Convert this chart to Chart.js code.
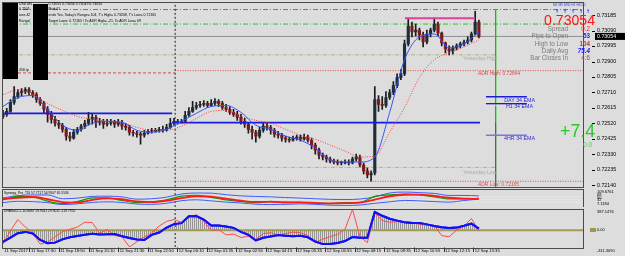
<!DOCTYPE html>
<html>
<head>
<meta charset="utf-8">
<title>AUDUSD M5</title>
<script src="https://cdn.jsdelivr.net/npm/chart.js@4.4.1/dist/chart.umd.min.js"></script>
<style>
  html, body { margin: 0; padding: 0; background: #dddddd; }
  #wrap { position: relative; width: 625px; height: 256px; overflow: hidden; font-family: "Liberation Sans", Arial, sans-serif; }
  #wrap canvas { position: absolute; left: 0; }
  .t { position: absolute; white-space: nowrap; line-height: 1; }
  .box { position: absolute; background: #000; }
  .arr { position: absolute; font-family: "DejaVu Sans", sans-serif; font-size: 5px; line-height: 1; color: #2040ff; font-weight: bold; }
</style>
</head>
<body>
<div id="wrap">
  <canvas id="priceChart" width="625" height="190" style="top:0"></canvas>
  <canvas id="tdiChart" width="625" height="19" style="top:188px"></canvas>
  <canvas id="cciChart" width="625" height="48" style="top:208px"></canvas>

  <!-- top left info block -->
  <div class="t" style="left:19px;top:3.2px;font-size:3.5px">USD,M5</div>
  <div class="t" style="left:48.5px;top:3.2px;font-size:3.5px">0.73055 0.73056 0.73049 0.73054</div>
  <div class="t" style="left:19px;top:8.3px;font-size:3.5px">0 2505</div>
  <div class="t" style="left:48.5px;top:8.3px;font-size:3.5px">Mod:01</div>
  <div class="t" style="left:19px;top:14px;font-size:3.5px">ions 42</div>
  <div class="t" style="left:48.5px;top:14px;font-size:3.5px">ends Yes, Today's Range= 104, T's High= 0.73208, T's Low= 0.72165</div>
  <div class="t" style="left:19px;top:20.3px;font-size:3.5px">Range(</div>
  <div class="t" style="left:48.5px;top:20.3px;font-size:3.5px">Target Lows: 0.72165 / To ADR High= -21, To ADR Low= 69</div>
  <div class="t" style="left:19px;top:68.5px;font-size:3.5px">456 tp</div>
  <div class="box" style="left:3px;top:3px;width:15px;height:76px"></div>
  <div class="box" style="left:33px;top:4px;width:15px;height:76px"></div>

  <!-- right info block -->
  <div class="t" style="left:553px;top:4px;font-size:3.3px;color:#2040ff">M1 M5 M30 H1 H4 D1</div>
  <div class="arr" style="left:555px;top:8.5px">↑</div>
  <div class="arr" style="left:563px;top:8.5px">↑</div>
  <div class="arr" style="left:571px;top:8.5px">↑</div>
  <div class="arr" style="left:579px;top:8.5px">↑</div>
  <div class="arr" style="left:586px;top:8.5px">↑</div>
  <div class="t" style="right:30px;top:13.1px;font-size:14.1px;color:#ff1414">0.73054</div>
  <div class="t" style="right:57px;top:25.9px;font-size:6.3px;color:#7c7c7c">Spread</div>
  <div class="t" style="right:57px;top:33.4px;font-size:6.3px;color:#7c7c7c">Pips to Open</div>
  <div class="t" style="right:57px;top:40.9px;font-size:6.3px;color:#7c7c7c">High to Low</div>
  <div class="t" style="right:57px;top:48.4px;font-size:6.3px;color:#7c7c7c">Daily Avg</div>
  <div class="t" style="right:57px;top:55.4px;font-size:6.3px;color:#7c7c7c">Bar Closes In</div>
  <div class="t" style="right:35px;top:25.9px;font-size:6.3px;color:#e83030">0.2</div>
  <div class="t" style="right:35px;top:33.4px;font-size:6.3px;color:#2424ff;font-weight:bold">53</div>
  <div class="t" style="right:35px;top:40.9px;font-size:6.3px;color:#c03838;font-weight:bold">104</div>
  <div class="t" style="right:35px;top:48.4px;font-size:6.3px;color:#1a1aff;font-weight:bold;font-style:italic">75.4</div>
  <div class="t" style="right:35px;top:55.4px;font-size:6.3px;color:#a84040">4:6</div>
  <div class="t" style="right:30px;top:122.8px;font-size:17.7px;color:#28c828">+7.4</div>
  <div class="t" style="right:33px;top:141.9px;font-size:6.3px;color:#50d050">0.0</div>

  <!-- level labels -->
  <div class="t" style="right:90px;top:98.1px;font-size:5.3px;color:#2626d9">DAY 34 EMA</div>
  <div class="t" style="right:92px;top:104.4px;font-size:5.3px;color:#2626d9">H1 34 EMA</div>
  <div class="t" style="right:90px;top:136.4px;font-size:5.3px;color:#3030d0">4HR 34 EMA</div>
  <div class="t" style="left:463px;top:55.5px;font-size:5.1px;color:#a9a9a9">Yesterday High</div>
  <div class="t" style="left:463px;top:169.5px;font-size:5.1px;color:#a9a9a9">Yesterday Low</div>
  <div class="t" style="left:478px;top:72.1px;font-size:4.9px;color:#d24a4a">ADR High: 0.72844</div>
  <div class="t" style="left:478px;top:183.1px;font-size:4.9px;color:#d24a4a">ADR Low: 0.72165</div>

  <!-- indicator windows -->
  <div class="t" style="left:4px;top:191.6px;font-size:3.3px">Synergy_Pro_TDI 57.7717 54.9567 65.5534</div>
  <div class="t" style="left:4px;top:210px;font-size:3.3px">DRBSoCCI -10.8067 29.9011 29.9011 -119.7952</div>
  <div class="t" style="left:597px;top:189.7px;font-size:4px">109.6761</div>
  <div class="t" style="left:597px;top:193px;font-size:4px">68</div>
  <div class="t" style="left:597px;top:195.5px;font-size:4px">50</div>
  <div class="t" style="left:597px;top:198px;font-size:4px">32</div>
  <div class="t" style="left:597px;top:201.5px;font-size:4px">7.1184</div>
  <div class="t" style="left:597px;top:210px;font-size:4px">387.1476</div>
  <div class="box" style="left:590px;top:228.3px;width:6px;height:4px;background:#a09850"></div>
  <div class="t" style="left:597px;top:228.3px;font-size:4px">0.00</div>
  <div class="t" style="left:597px;top:249px;font-size:4px">-311.3090</div>
</div>

<script>
// candle prices in points (0.00001) above 0.72000, one candle per 10 minutes
const BASE = 0.72;
const candleOpen = [
  563,576,594,649,685,710,716,728,710,697,
  667,643,606,576,545,521,509,484,442,430,
  466,484,503,521,545,557,527,533,515,521,
  527,515,527,503,496,466,460,454,448,460,
  472,472,478,484,478,496,521,533,527,533,
  570,594,618,630,637,643,630,643,655,643,
  618,606,588,576,557,533,515,484,466,442,
  478,503,496,478,454,448,430,423,417,430,
  436,423,436,417,387,356,326,314,302,289,
  283,277,277,283,277,302,314,265,229,204,
  216,667,637,630,679,710,752,801,825,1008,
  1118,1081,1093,1063,1020,1069,1093,1130,1075,1014,
  978,965,984,996,1008,1020,1032,1069,1142
];
const candleHigh = [
  600,612,667,746,728,734,740,740,722,710,
  679,655,624,594,563,539,521,496,466,484,
  496,515,539,588,576,570,551,545,545,545,
  539,545,539,521,509,478,472,466,478,484,
  490,490,496,503,515,551,551,545,545,594,
  618,655,649,655,661,655,667,673,667,655,
  637,624,606,594,576,551,527,503,478,496,
  527,521,509,490,472,460,442,436,442,448,
  448,454,448,430,399,369,338,326,314,302,
  296,289,296,296,314,332,326,277,247,229,
  746,691,685,716,728,777,825,850,1032,1166,
  1142,1130,1105,1081,1093,1105,1166,1142,1081,1020,
  996,996,1008,1020,1032,1051,1081,1208,1154
];
const candleLow = [
  551,563,588,637,673,691,703,697,679,649,
  630,582,527,521,503,490,466,417,411,423,
  454,472,490,509,515,496,509,490,503,509,
  496,503,484,478,448,442,436,393,436,454,
  460,466,466,466,472,490,509,515,521,527,
  563,588,606,618,624,618,624,630,624,606,
  594,576,563,539,515,496,460,423,405,430,
  466,478,454,436,430,411,405,405,411,417,
  411,417,405,363,332,302,296,283,277,271,
  265,265,271,265,271,289,253,210,186,165,
  204,594,606,618,667,697,740,789,813,996,
  1051,1057,1032,990,1008,1051,1081,1057,996,953,
  941,947,971,984,996,1008,1020,1063,1045
];
const candleClose = [
  576,594,649,685,710,716,728,710,697,667,
  643,606,576,545,521,509,484,442,430,466,
  484,503,521,545,557,527,533,515,521,527,
  515,527,503,496,466,460,454,448,460,472,
  472,478,484,478,496,521,533,527,533,570,
  594,618,630,637,643,630,643,655,643,618,
  606,588,576,557,533,515,484,466,442,478,
  503,496,478,454,448,430,423,417,430,436,
  423,436,417,387,356,326,314,302,289,283,
  277,277,283,277,302,314,265,229,204,216,
  667,637,630,679,710,752,801,825,1008,1118,
  1081,1093,1063,1020,1069,1093,1130,1075,1014,978,
  965,984,996,1008,1020,1032,1069,1142,1054
];

// moving averages, read every 4th candle (points above BASE)
const emaFast = [624,679,691,606,509,478,521,533,527,478,466,484,533,582,624,630,588,509,484,442,417,369,296,283,283,314,588,911,1051,1069,984,1008,1081];
const maSlow = [697,725,697,643,600,563,545,533,524,496,478,478,503,551,594,600,563,539,521,484,448,423,387,350,314,320,466,618,801,911,953,990,1032];

// TDI window, read every 4th candle
const tdiUpper = [61.6,75.7,80.8,80.8,55.2,59.7,71.2,72.5,68.0,52.6,55.2,66.1,87.2,93.7,93.0,82.1,74.4,70.6,68.0,63.5,59.7,55.2,51.4,50.1,53.3,68.0,93.7,100.1,96.2,91.1,77.6,77.6,74.4];
const tdiLower = [29.6,38.5,36.0,29.6,16.7,21.2,30.8,34.7,30.8,19.9,18.0,25.1,42.4,48.8,41.1,32.8,27.6,18.7,16.7,18.0,21.2,18.0,12.2,11.0,13.5,25.1,34.7,44.3,41.1,36.6,32.8,43.7,53.3];
const tdiPrice = [48.8,71.2,68.0,39.2,23.1,36.0,61.6,61.6,44.3,29.6,34.7,48.8,72.5,78.9,64.8,47.5,37.2,29.6,37.2,29.6,31.5,25.7,23.1,29.6,31.5,71.2,80.8,87.2,80.8,68.0,53.9,55.2,57.8];
const tdiSignal = [52,62,67,52,33,30,48,58,52,38,33,42,60,72,70,56,43,34,34,32,31,28,25,26,29,50,72,82,83,74,62,56,55];
const tdiLevels = [68, 50, 32];

// CCI window, read every 2nd candle
const cciSlow = [-217,-135,-55,-30,-60,-180,-241,-230,-170,-130,-108,-85,-63,-78,-75,-68,-110,-145,-172,-180,-85,-42,50,115,133,260,265,200,90,90,70,45,-30,-85,-190,-139,-114,-90,-100,-112,-100,-130,-210,-257,-257,-235,-200,-125,-139,-139,340,270,215,180,148,137,137,110,80,55,43,50,85,125,30];
const cciFast = [-257,-10,200,60,-50,-257,-220,-120,-25,19,60,150,145,-55,19,-99,-120,-310,-217,-125,-50,80,165,200,150,240,290,170,0,10,-85,-70,-135,-110,-170,-60,-45,-90,-60,-35,-45,-100,-235,-165,-120,-75,20,390,-120,-230,330,180,150,160,160,150,110,100,90,-100,-120,0,80,220,-11];

// axes
const priceTicks = [0.72140,0.72235,0.72330,0.72425,0.72520,0.72615,0.72710,0.72805,0.72900,0.72995,0.73090,0.73185];
const timeLabels = ['11 Sep 2017','11 Sep 17:30','11 Sep 18:50','11 Sep 20:10','11 Sep 21:30','11 Sep 22:50','12 Sep 00:10','12 Sep 01:35','12 Sep 02:55','12 Sep 04:15','12 Sep 05:35','12 Sep 06:55','12 Sep 08:15','12 Sep 09:35','12 Sep 10:55','12 Sep 12:15','12 Sep 13:35'];
const timeTickAt = [0,7.1,15.0,23.0,31.0,38.9,46.9,54.8,62.8,70.7,78.7,86.7,94.6,102.6,110.5,118.5,126.5];

// price levels drawn on the chart
const lvlTopRed = 0.73219, lvlTarget = 0.73130, lvlTodayHigh = 0.73165;
const lvlYHigh = 0.72941, lvlYLow = 0.72250;
const lvlAdrHighPrev = 0.72830, lvlAdrHigh = 0.72844, lvlAdrLow = 0.72165;
const lvlPivotPrev = 0.72582, lvlPivot = 0.72525;
const emaDay = 0.72683, emaH1 = 0.72641, emaH1b = 0.72632, ema4h = 0.72448;

const P = v => BASE + v / 1e5;
const N = candleClose.length;
const X_MAX = 156, X_DAY = 46.3, X_GREEN = 132.5, X_LAST = 128.3;
const FONT = '"Liberation Sans", Arial, sans-serif';
Chart.defaults.font.family = FONT;

function seg(x0, x1, y, color, dash, width, order) {
  return { type: 'line', data: [{ x: x0, y: y }, { x: x1, y: y }], borderColor: color,
    borderWidth: width || 1, borderDash: dash || [], pointRadius: 0, fill: false,
    order: order === undefined ? 20 : order };
}
function vseg(x, y0, y1, color, dash, width, order) {
  return { type: 'line', data: [{ x: x, y: y0 }, { x: x, y: y1 }], borderColor: color,
    borderWidth: width || 1, borderDash: dash || [], pointRadius: 0, fill: false,
    order: order === undefined ? 19 : order };
}
function series(arr, step, color, width, extra) {
  return Object.assign({ type: 'line', data: arr.map((v, k) => ({ x: k * step, y: v })),
    borderColor: color, borderWidth: width, pointRadius: 0, fill: false }, extra || {});
}

const framePlugin = {
  id: 'frame',
  afterDraw(chart) {
    const { ctx, chartArea: a } = chart;
    ctx.save();
    ctx.strokeStyle = '#4a4a4a';
    ctx.lineWidth = 1;
    ctx.strokeRect(Math.round(a.left) - 0.5, Math.round(a.top) - 0.5, Math.round(a.width) + 1, Math.round(a.height) + 1);
    ctx.restore();
  }
};

const priceExtras = {
  id: 'priceExtras',
  afterDraw(chart) {
    const { ctx, scales: { y } } = chart;
    ctx.save();
    ctx.strokeStyle = '#000';
    ctx.lineWidth = 1;
    y.ticks.forEach(t => {
      const py = Math.round(y.getPixelForValue(t.value)) + 0.5;
      ctx.beginPath(); ctx.moveTo(592, py); ctx.lineTo(595, py); ctx.stroke();
    });
    const last = P(candleClose[N - 1]);
    const py = y.getPixelForValue(last);
    ctx.fillStyle = '#000';
    ctx.fillRect(595, py - 3.5, 30, 7);
    ctx.fillStyle = '#fff';
    ctx.font = '5.3px ' + FONT;
    ctx.textBaseline = 'middle';
    ctx.fillText(last.toFixed(5), 597, py + 0.3);
    ctx.restore();
  }
};

const timeMarks = {
  id: 'timeMarks',
  afterDraw(chart) {
    const { ctx, scales: { x }, chartArea: a } = chart;
    ctx.save();
    ctx.strokeStyle = '#333';
    ctx.lineWidth = 1;
    x.ticks.forEach((t, i) => {
      if (i === 0) return;
      const px = Math.round(x.getPixelForValue(t.value)) + 0.5;
      ctx.beginPath(); ctx.moveTo(px, a.bottom + 0.5); ctx.lineTo(px, a.bottom + 5); ctx.stroke();
    });
    ctx.restore();
  }
};

const baseOptions = (padding) => ({
  responsive: false, animation: false, events: [],
  layout: { padding: padding },
  plugins: { legend: { display: false }, tooltip: { enabled: false } }
});

// ---- main price window
const Y_MIN = P(131), Y_MAX = P(1258);
const priceOpts = baseOptions({ left: 3, top: 3, right: 0, bottom: 2 });
priceOpts.scales = {
  x: { type: 'linear', min: 0, max: X_MAX, offset: false, display: false },
  y: {
    position: 'right', min: Y_MIN, max: Y_MAX,
    afterFit: s => { s.width = 42; },
    afterBuildTicks: s => { s.ticks = priceTicks.map(v => ({ value: v })); },
    // tick marks are not drawn, their length only pushes the labels out to the right
    grid: { display: false, drawTicks: true, tickLength: 14 }, border: { display: false },
    ticks: { padding: 0, color: '#000', font: { size: 5.3 }, callback: v => v.toFixed(5) }
  }
};

new Chart(document.getElementById('priceChart'), {
  type: 'bar',
  data: {
    datasets: [
      seg(0, X_MAX, lvlTopRed, '#e04a4a', [5, 2, 1, 2]),
      seg(0, X_MAX, lvlTarget, '#2ec02e', [5, 2, 1, 2]),
      seg(0, X_MAX, P(candleClose[N - 1]), '#8e8e8e', []),
      seg(0, X_GREEN, lvlYHigh, '#bcae7c', [4, 1.5, 1, 1.5]),
      seg(0, X_GREEN, lvlYLow, '#bcae7c', [4, 1.5, 1, 1.5]),
      seg(0, X_DAY, lvlAdrHighPrev, '#d84848', [3, 2]),
      seg(X_DAY, X_MAX, lvlAdrHigh, '#d84848', [1, 1.5]),
      seg(X_DAY, X_MAX, lvlAdrLow, '#d84848', [1, 1.5]),
      vseg(X_DAY, Y_MIN, Y_MAX, '#222', [2, 2]),
      vseg(X_GREEN, lvlPivot, Y_MIN, '#3c783c', [], 1),
      vseg(X_GREEN, 0.73215, lvlPivot, '#00cc00', [], 1),
      {
        type: 'bar', grouped: false, order: 10, barThickness: 1,
        data: candleClose.map((c, i) => ({ x: i, y: [P(candleLow[i]), P(candleHigh[i])] })),
        backgroundColor: '#1a1a1a'
      },
      {
        type: 'bar', grouped: false, order: 9, barThickness: 2.5, minBarLength: 1,
        data: candleClose.map((c, i) => ({ x: i, y: [P(candleOpen[i]), P(c)] })),
        backgroundColor: candleClose.map((c, i) => c >= candleOpen[i] ? '#1e2f3a' : '#7e1a1a')
      },
      seg(0, X_DAY - 0.8, lvlPivotPrev, '#1a1ae6', [], 1.6, 6),
      seg(X_DAY - 0.8, X_LAST, lvlPivot, '#1a1ae6', [], 1.6, 6),
      seg(108.1, 127, lvlTodayHigh, '#e0409c', [], 2, 5),
      seg(129.9, 140.9, emaDay, '#1c1cd8', [], 1.5, 4),
      seg(129.9, 140.9, emaH1b, '#efe6a8', [], 1, 4),
      seg(129.9, 140.9, emaH1, '#1c1cd8', [], 1.5, 4),
      seg(129.9, 140.9, ema4h, '#7878d8', [], 1.5, 4),
      series(maSlow.map(P), 4, '#ff3c3c', 1, { borderDash: [1, 1.5], cubicInterpolationMode: 'monotone', order: 3 }),
      series(emaFast.map(P), 4, '#3355ff', 1, { cubicInterpolationMode: 'monotone', order: 2 })
    ]
  },
  options: priceOpts,
  plugins: [framePlugin, priceExtras]
});

// ---- TDI window
const tdiOpts = baseOptions({ left: 3, top: 2, right: 42, bottom: 0 });
tdiOpts.scales = {
  x: { type: 'linear', min: 0, max: X_MAX, display: false },
  y: { min: 0.3, max: 113.8, display: false }
};
new Chart(document.getElementById('tdiChart'), {
  type: 'line',
  data: {
    datasets: [
      ...tdiLevels.map(l => seg(0, X_MAX, l, '#f2f2f2', [1, 1.5])),
      vseg(X_DAY, 0.3, 113.8, '#222', [2, 2]),
      series(tdiUpper, 4, '#3c5cff', 1, { cubicInterpolationMode: 'monotone', order: 4 }),
      series(tdiLower, 4, '#3c5cff', 1, { cubicInterpolationMode: 'monotone', order: 4 }),
      series(tdiPrice, 4, '#00a000', 1.2, { cubicInterpolationMode: 'monotone', order: 3 }),
      series(tdiSignal, 4, '#ff1a1a', 1.8, { cubicInterpolationMode: 'monotone', order: 2 })
    ]
  },
  options: tdiOpts,
  plugins: [framePlugin]
});

// ---- CCI window
const hatchCanvas = document.createElement('canvas');
hatchCanvas.width = 2; hatchCanvas.height = 2;
const hctx = hatchCanvas.getContext('2d');
hctx.fillStyle = '#959595';
hctx.fillRect(0, 0, 1, 2);
const hatch = hctx.createPattern(hatchCanvas, 'repeat');

const cciOpts = baseOptions({ left: 3, top: 1.5, right: 42, bottom: 0 });
cciOpts.scales = {
  x: {
    type: 'linear', min: 0, max: X_MAX, offset: false, position: 'bottom',
    afterBuildTicks: s => { s.ticks = timeTickAt.map(v => ({ value: v })); },
    afterFit: s => { s.height = 9; },
    grid: { display: false, drawTicks: false }, border: { display: false },
    ticks: { autoSkip: false, maxRotation: 0, minRotation: 0, align: 'start', labelOffset: 1.5,
      padding: 1, color: '#000', font: { size: 4.2 }, callback: (v, i) => timeLabels[i] }
  },
  y: { min: -311.309, max: 387.1476, display: false }
};
new Chart(document.getElementById('cciChart'), {
  type: 'line',
  data: {
    datasets: [
      vseg(X_DAY, -311.309, 387.1476, '#222', [2, 2]),
      series(cciSlow, 2, '#1010ff', 2, { fill: 'origin', backgroundColor: hatch, order: 6 }),
      seg(0, X_MAX, 0, '#a49a58', [], 2, 5),
      series(cciFast, 2, '#ff4a4a', 1, { order: 4 }),
      series(cciSlow, 2, '#1010ff', 2, { order: 3 })
    ]
  },
  options: cciOpts,
  plugins: [framePlugin, timeMarks]
});
</script>
</body>
</html>
